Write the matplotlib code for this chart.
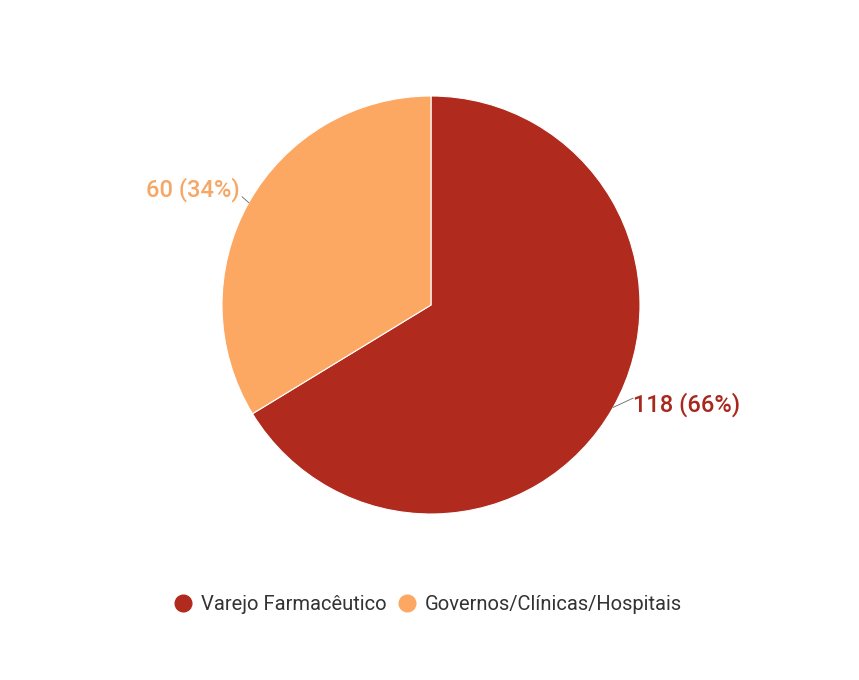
import matplotlib.pyplot as plt
import numpy as np
from matplotlib.lines import Line2D

plt.rcParams['font.family'] = ['Roboto', 'DejaVu Sans']

categories = ["Varejo Farmacêutico", "Governos/Clínicas/Hospitais"]
values = [118, 60]
colors = ["#B02A1E", "#FCA862"]
label_colors = ["#A8281E", "#F6A766"]

W, H = 859, 680
fig = plt.figure(figsize=(W / 100, H / 100), dpi=100)
cx, cy, r = 431, 305, 209
ax = fig.add_axes([(cx - r) / W, (H - cy - r) / H, 2 * r / W, 2 * r / H])

wedges, _ = ax.pie(values, colors=colors, startangle=90, counterclock=False,
                   radius=1, wedgeprops=dict(edgecolor='white', linewidth=0.8))
ax.set_xlim(-1, 1)
ax.set_ylim(-1, 1)
ax.set_aspect('equal')
ax.axis('off')

# leader end offset and text offset relative to wedge edge midpoint
offsets = [((0.095, 0.044), (0.095, 0.011)), ((-0.032, 0.028), (-0.042, 0.061))]

total = sum(values)
for w, v, c, (lo, to) in zip(wedges, values, label_colors, offsets):
    mid = np.deg2rad((w.theta1 + w.theta2) / 2)
    x0, y0 = np.cos(mid), np.sin(mid)
    ax.plot([x0, x0 + lo[0]], [y0, y0 + lo[1]], color='#666666', lw=0.6, clip_on=False)
    ha = 'left' if x0 > 0 else 'right'
    ax.text(x0 + to[0], y0 + to[1], f"{v} ({round(100 * v / total)}%)",
            color=c, fontsize=17, fontweight='medium', ha=ha, va='center')

handles = [Line2D([], [], marker='o', linestyle='', markersize=12,
                  markerfacecolor=c, markeredgecolor=c) for c in colors]
fig.legend(handles, categories, loc='center', bbox_to_anchor=(426.5 / W, 1 - 605 / H),
           ncol=2, frameon=False, fontsize=14.5, handletextpad=0.3,
           columnspacing=0.4, labelcolor='#333333', handlelength=1.2)

fig.savefig('out.png', dpi=100)
